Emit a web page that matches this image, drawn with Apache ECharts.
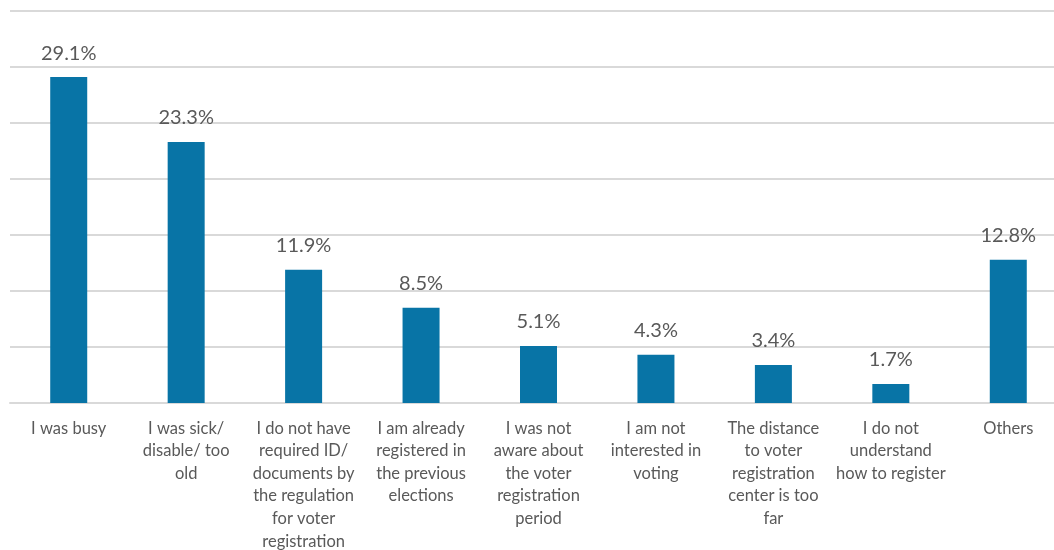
<!DOCTYPE html>
<html>
<head>
<meta charset="utf-8">
<script src="https://cdn.jsdelivr.net/npm/echarts@6/dist/echarts.min.js"></script>
<style>
  html, body { margin: 0; padding: 0; background: #fff; }
  #chart { width: 1054px; height: 550px; }
</style>
</head>
<body>
<div id="chart"></div>
<script>
// Reasons given for not registering to vote (share of respondents, %)
const categories = [
  'I was busy',
  'I was sick/\ndisable/ too\nold',
  'I do not have\nrequired ID/\ndocuments by\nthe regulation\nfor voter\nregistration',
  'I am already\nregistered in\nthe previous\nelections',
  'I was not\naware about\nthe voter\nregistration\nperiod',
  'I am not\ninterested in\nvoting',
  'The distance\nto voter\nregistration\ncenter is too\nfar',
  'I do not\nunderstand\nhow to register',
  'Others'
];
const shares = [29.1, 23.3, 11.9, 8.5, 5.1, 4.3, 3.4, 1.7, 12.8];

const axisMin = 0;
const axisMax = 35;
const axisStep = 5;

const chart = echarts.init(document.getElementById('chart'), null, { renderer: 'canvas' });
chart.setOption({
  animation: false,
  backgroundColor: '#ffffff',
  grid: {
    left: 10, right: -13, top: 11, bottom: 147,
    containLabel: false,
    outerBoundsMode: 'none'
  },
  xAxis: {
    type: 'category',
    data: categories,
    axisTick: { show: false },
    axisLine: { show: true, lineStyle: { color: '#d9d9d9', width: 2 } },
    axisLabel: {
      interval: 0,
      margin: 14,
      color: '#595959',
      fontFamily: 'Lato',
      fontSize: 16.5,
      lineHeight: 22.6,
      align: 'center'
    }
  },
  yAxis: {
    type: 'value',
    min: axisMin,
    max: axisMax,
    interval: axisStep,
    axisLabel: { show: false },
    axisLine: { show: false },
    axisTick: { show: false },
    splitLine: { lineStyle: { color: '#d9d9d9', width: 2 } }
  },
  series: [{
    type: 'bar',
    data: shares,
    barWidth: 37,
    itemStyle: { color: '#0874a6' },
    label: {
      show: true,
      position: 'top',
      distance: 14,
      color: '#595959',
      fontFamily: 'Lato',
      fontSize: 20,
      formatter: p => p.value.toFixed(1) + '%'
    }
  }]
});
</script>
</body>
</html>
